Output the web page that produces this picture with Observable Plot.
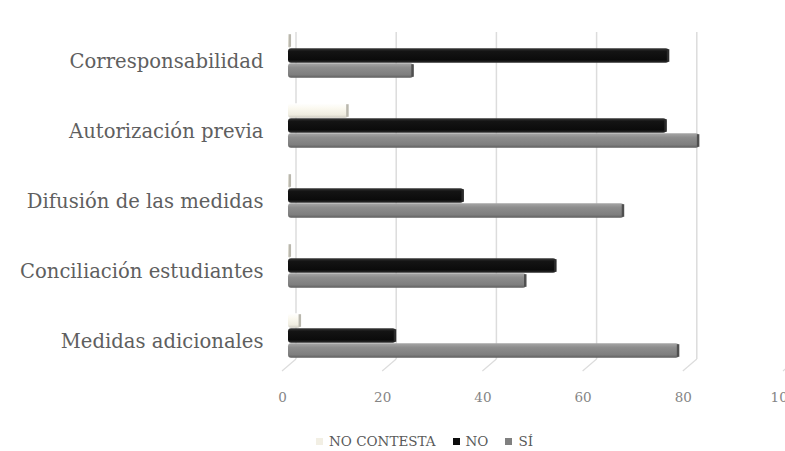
<!DOCTYPE html>
<html>
<head>
<meta charset="utf-8">
<script src="https://cdn.jsdelivr.net/npm/d3@7"></script>
<script src="https://cdn.jsdelivr.net/npm/@observablehq/plot@0.6"></script>
<style>
  html, body { margin: 0; padding: 0; background: #fff; }
  #chart { width: 785px; height: 451px; overflow: hidden; }
  .lg-swatches { margin: 0 !important; padding: 15px 0 0 316px; min-height: 0 !important; }
  .lg-swatches, .lg-swatches * { font-family: "DejaVu Serif", serif !important; font-size: 13.5px !important; color: #595959 !important; }
  .lg-swatch { margin-right: 17px !important; }
  .lg-swatch > svg { margin-right: 6px !important; }
</style>
</head>
<body>
<div id="chart"></div>
<script>
// Survey answers per measure (percent)
const categories = [
  "Corresponsabilidad",
  "Autorización previa",
  "Difusión de las medidas",
  "Conciliación estudiantes",
  "Medidas adicionales"
];
const series = ["NO CONTESTA", "NO", "SÍ"];
const noContesta = [0.5, 12, 0.5, 0.5, 2.5];
const no = [76, 75.5, 35, 53.5, 21.5];
const si = [25, 82, 67, 47.5, 78];
const xTicks = [0, 20, 40, 60, 80, 100];
const gridTicks = [0, 20, 40, 60, 80];

const seriesValues = [noContesta, no, si];
const rows = categories.flatMap((category, i) =>
  series.map((s, k) => ({category, series: s, value: seriesValues[k][i]}))
);
const bySeries = s => rows.filter(d => d.series === s);

const swatchColors = ["#f2efe4", "#0d0d0d", "#808080"];
const capColors = ["#b9b7ad", "#2b2b2b", "#4f4f4f"];

// back wall gridlines plus the short floor edges below each tick
function wallAndFloor(index, scales, values, dimensions) {
  const top = dimensions.marginTop;
  const bottom = dimensions.height - dimensions.marginBottom;
  const g = d3.create("svg:g").attr("stroke", "#dcdcdc").attr("fill", "none");
  for (const v of gridTicks) {
    const x = scales.x(v) + 8;
    g.append("line").attr("x1", x).attr("x2", x).attr("y1", top).attr("y2", bottom).attr("stroke-width", 1.5);
  }
  for (const v of xTicks) {
    const x = scales.x(v);
    g.append("line").attr("x1", x + 8).attr("y1", bottom).attr("x2", x - 6).attr("y2", bottom + 12).attr("stroke-width", 1.2);
  }
  return g.node();
}

const plot = Plot.plot({
  width: 785,
  height: 418,
  marginLeft: 288,
  marginRight: 0,
  marginTop: 14,
  marginBottom: 54,
  style: {fontFamily: "DejaVu Serif, serif", background: "transparent"},
  x: {domain: [0, 100], range: [288, 789]},
  y: {domain: series, padding: 0, axis: null},
  fy: {domain: categories, paddingInner: 0.33, paddingOuter: 0.16, align: 0.78, axis: null},
  marks: [
    Plot.frame({facet: "super", render: wallAndFloor}),
    ...series.map((s, k) =>
      Plot.barX(bySeries(s), {
        x: "value", y: "series", fy: "category",
        fill: `url(#bar-grad-${k})`, rx: 3, insetTop: 0.3, insetBottom: 0.3
      })
    ),
    ...series.map((s, k) =>
      Plot.tickX(bySeries(s), {
        x: "value", y: "series", fy: "category",
        stroke: capColors[k], strokeWidth: 2.5, dx: -1.2, insetTop: 1.2, insetBottom: 1.2
      })
    ),
    Plot.axisFy({
      anchor: "left", tickSize: 0, tickPadding: 25, label: null,
      fontSize: 19.6, fill: "#5f5f5f", dy: 6
    }),
    Plot.axisX(xTicks, {
      anchor: "bottom", tickSize: 0, tickPadding: 33, label: null,
      fontSize: 13.5, fill: "#858585", dx: -6
    })
  ]
});

// cylinder-like shading for the bars
const defs = d3.select(plot).insert("defs", ":first-child");
const stops = [
  [["0%", "#ffffff"], ["35%", "#fbf9f0"], ["80%", "#efece0"], ["100%", "#cfccc2"]],
  [["0%", "#3a3a3a"], ["20%", "#141414"], ["80%", "#0b0b0b"], ["100%", "#2e2e2e"]],
  [["0%", "#a6a6a6"], ["30%", "#8c8c8c"], ["80%", "#7e7e7e"], ["100%", "#5e5e5e"]]
];
stops.forEach((list, k) => {
  const grad = defs.append("linearGradient")
    .attr("id", `bar-grad-${k}`).attr("x1", 0).attr("y1", 0).attr("x2", 0).attr("y2", 1);
  list.forEach(([o, c]) => grad.append("stop").attr("offset", o).attr("stop-color", c));
});

const legend = Plot.legend({
  color: {type: "ordinal", domain: series, range: swatchColors},
  swatchSize: 7,
  className: "lg"
});

const chart = document.getElementById("chart");
chart.append(plot);
chart.append(legend);
</script>
</body>
</html>
